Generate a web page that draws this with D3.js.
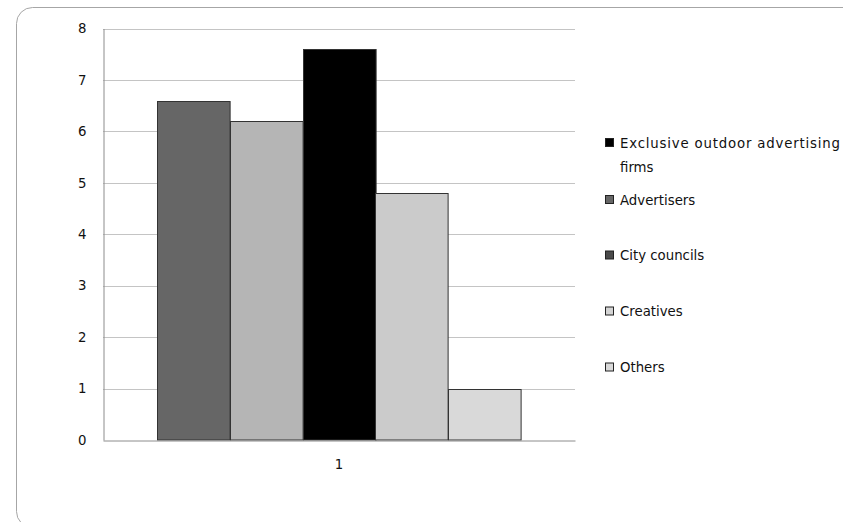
<!DOCTYPE html>
<html>
<head>
<meta charset="utf-8">
<script src="https://cdn.jsdelivr.net/npm/d3@7"></script>
<style>
  body { margin: 0; background: #fff; }
  svg { display: block; font-family: "DejaVu Sans", sans-serif; }
</style>
</head>
<body>
<div id="chart"></div>
<script>
// 一個類別 "1"，五個系列
const categories = ["1"];
const seriesNames = ["Exclusive outdoor advertising firms", "Advertisers", "City councils", "Creatives", "Others"];
const seriesValues = [6.6, 6.2, 7.6, 4.8, 1.0];
const barColors = ["#666666", "#b5b5b5", "#000000", "#cbcbcb", "#d9d9d9"];
const legendColors = ["#000000", "#666666", "#4a4a4a", "#d4d4d4", "#d9d9d9"];
const yTicks = [0, 1, 2, 3, 4, 5, 6, 7, 8];

const width = 843, height = 522;
const margin = { top: 28.5, right: 268, bottom: 82, left: 103 };
const fontSize = 13.3;

const svg = d3.select("#chart").append("svg")
  .attr("width", width)
  .attr("height", height);

// 外框（圓角，超出右下邊界）
svg.append("rect")
  .attr("x", 16.5).attr("y", 7.5)
  .attr("width", 900).attr("height", 520)
  .attr("rx", 16).attr("ry", 16)
  .attr("fill", "none")
  .attr("stroke", "#a6a6a6");

const x0 = d3.scaleBand()
  .domain(categories)
  .range([margin.left, width - margin.right]);

// 5 條柱 + 1.5 個柱寬的間距
const bw = x0.bandwidth() / 6.5;
const x1 = d3.scaleBand()
  .domain(d3.range(seriesNames.length))
  .range([0, bw * 5]);

const y = d3.scaleLinear()
  .domain([0, 8])
  .range([height - margin.bottom, margin.top]);

// 格線
svg.append("g")
  .selectAll("line")
  .data(yTicks.filter(d => d > 0))
  .join("line")
  .attr("x1", margin.left)
  .attr("x2", width - margin.right)
  .attr("y1", d => Math.round(y(d)) + 0.5)
  .attr("y2", d => Math.round(y(d)) + 0.5)
  .attr("stroke", "#c4c4c4");

// 柱
const g = svg.append("g");
categories.forEach(c => {
  const start = x0(c) + bw * 0.75;
  g.selectAll("rect")
    .data(seriesValues)
    .join("rect")
    .attr("x", (d, i) => Math.round(start + x1(i)) + 0.5)
    .attr("y", d => Math.round(y(d)) + 0.5)
    .attr("width", x1.bandwidth())
    .attr("height", d => y(0) - Math.round(y(d)) - 0.5)
    .attr("fill", (d, i) => barColors[i])
    .attr("stroke", "#333")
    .append("title")
    .text((d, i) => `${seriesNames[i]}: ${d}`);
});

// y 軸
const yAxis = svg.append("g")
  .attr("transform", `translate(${margin.left + 0.5},0)`)
  .call(d3.axisLeft(y).tickValues(yTicks).tickSize(0).tickPadding(17));
yAxis.select(".domain").attr("stroke", "#8c8c8c");
yAxis.selectAll("text")
  .attr("font-size", fontSize)
  .attr("fill", "#111")
  .attr("font-family", "DejaVu Sans, sans-serif");

// x 軸
const xAxis = svg.append("g")
  .attr("transform", `translate(0,${Math.round(y(0)) + 0.5})`)
  .call(d3.axisBottom(x0).tickSize(0).tickPadding(19));
xAxis.select(".domain").attr("stroke", "#8c8c8c");
xAxis.selectAll("text")
  .attr("font-size", fontSize)
  .attr("fill", "#111")
  .attr("font-family", "DejaVu Sans, sans-serif");

// 圖例
const legendRows = [[143, 167], [200], [255.5], [311.5], [367.5]];
const legendLines = [["Exclusive outdoor advertising", "firms"], ["Advertisers"], ["City councils"], ["Creatives"], ["Others"]];
const legend = svg.append("g");
seriesNames.forEach((name, i) => {
  const row = legend.append("g");
  row.append("rect")
    .attr("x", 605.5)
    .attr("y", legendRows[i][0] - 4.5)
    .attr("width", 8)
    .attr("height", 8)
    .attr("fill", legendColors[i])
    .attr("stroke", "#222");
  legendLines[i].forEach((t, j) => {
    row.append("text")
      .attr("x", 620)
      .attr("y", legendRows[i][j])
      .attr("dy", "0.35em")
      .attr("font-size", fontSize)
      .attr("fill", "#111")
      .attr("textLength", j === 0 && i === 0 ? 220 : null)
      .text(t);
  });
});
</script>
</body>
</html>
